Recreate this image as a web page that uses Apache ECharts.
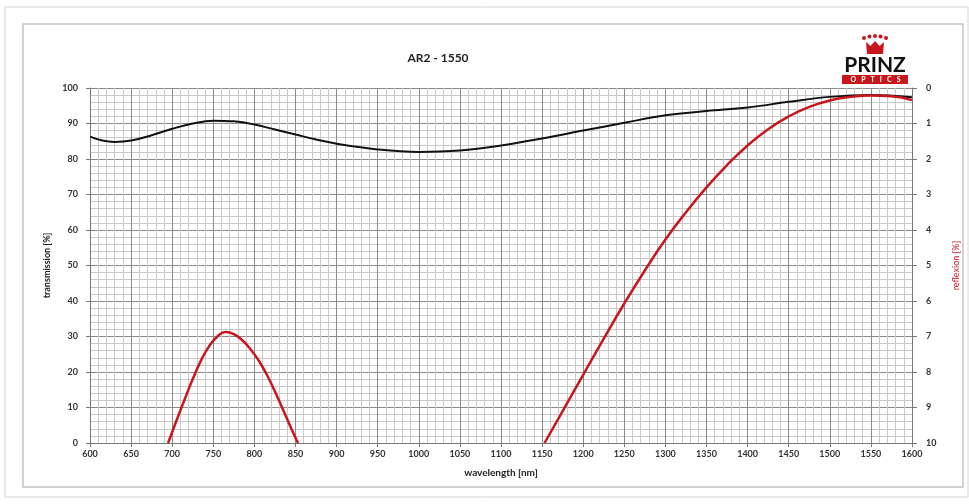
<!DOCTYPE html>
<html>
<head>
<meta charset="utf-8">
<script src="https://cdn.jsdelivr.net/npm/echarts@6/dist/echarts.min.js"></script>
<style>
html,body{margin:0;padding:0;background:#fff;}
#c{width:969px;height:504px;}
</style>
</head>
<body>
<div id="c"></div>
<script>
// ---- data ----
const title = 'AR2 - 1550';
const transWl = [600,615,630,650,675,700,725,750,775,800,825,850,875,900,950,1000,1050,1100,1150,1200,1250,1300,1350,1400,1450,1500,1550,1600];
const transVal = [86.3,85.2,84.8,85.2,86.7,88.5,90.0,90.8,90.6,89.7,88.3,86.9,85.5,84.3,82.7,82.0,82.4,83.8,85.8,88.0,90.2,92.3,93.5,94.5,96.1,97.5,98.0,97.4];
const reflAWl = [695,705,715,725,735,745,755,765,775,785,795,805,815,825,835,845,853];
const reflAVal = [10,9.38,8.78,8.2,7.68,7.27,7.0,6.87,6.93,7.1,7.35,7.67,8.07,8.55,9.07,9.6,10];
const reflBWl = [1153,1175,1200,1225,1250,1275,1300,1325,1350,1375,1400,1425,1450,1475,1500,1525,1550,1575,1600];
const reflBVal = [10,9.1,8.08,7.06,6.07,5.14,4.27,3.5,2.8,2.17,1.62,1.16,0.8,0.53,0.35,0.25,0.21,0.23,0.34];

const zip = (a,b)=>a.map((x,i)=>[x,b[i]]);
const FONT = 'Lato';
const chart = echarts.init(document.getElementById('c'), null, {renderer:'canvas'});
const redCol = '#c8161d';
const plain = v => String(v);
chart.setOption({
  animation:false,
  backgroundColor:'#fff',
  title:{text:title,left:433,top:47,textAlign:'center',textStyle:{fontFamily:FONT,fontSize:12,fontWeight:'bold',color:'#222'}},
  grid:{left:90,right:57,top:88,bottom:61},
  xAxis:{type:'value',min:600,max:1600,interval:50,
    name:'wavelength [nm]',nameLocation:'middle',nameGap:25,
    nameTextStyle:{fontFamily:FONT,fontSize:10,fontWeight:'bold',color:'#222'},
    axisLine:{show:true,lineStyle:{color:'#777',width:1}},
    axisTick:{show:true,length:4,lineStyle:{color:'#777'}},
    axisLabel:{fontFamily:FONT,fontSize:9,color:'#333',fontWeight:'bold',margin:7,formatter:plain},
    splitLine:{show:true,lineStyle:{color:'#8a8a8a',width:1}},
    minorTick:{show:false,splitNumber:5},
    minorSplitLine:{show:true,lineStyle:{color:'#c9c9c9',width:1}}
  },
  yAxis:[{type:'value',min:0,max:100,interval:10,position:'left',
    name:'transmission [%]',nameLocation:'middle',nameGap:36,nameRotate:90,
    nameTextStyle:{fontFamily:FONT,fontSize:9,fontWeight:'bold',color:'#222'},
    axisLine:{show:true,lineStyle:{color:'#777'}},
    axisTick:{show:true,length:4,lineStyle:{color:'#777'}},
    axisLabel:{fontFamily:FONT,fontSize:9,color:'#333',fontWeight:'bold',margin:12,formatter:plain},
    splitLine:{show:true,lineStyle:{color:'#8a8a8a',width:1}},
    minorTick:{show:false,splitNumber:5},
    minorSplitLine:{show:true,lineStyle:{color:'#c9c9c9',width:1}}
  },{type:'value',min:0,max:10,interval:1,position:'right',inverse:true,
    name:'reflexion [%]',nameLocation:'middle',nameGap:40,nameRotate:90,
    nameTextStyle:{fontFamily:FONT,fontSize:9,color:redCol},
    axisLine:{show:true,lineStyle:{color:'#777'}},
    axisTick:{show:true,length:5,lineStyle:{color:'#777'}},
    axisLabel:{fontFamily:FONT,fontSize:9,color:'#333',fontWeight:'bold',margin:14,formatter:plain},
    splitLine:{show:false}
  }],
  series:[
    {type:'line',name:'transmission',yAxisIndex:0,data:zip(transWl,transVal),smooth:0.4,symbol:'none',
      lineStyle:{color:'#111',width:2},z:3},
    {type:'line',name:'reflexion',yAxisIndex:1,data:zip(reflAWl,reflAVal),smooth:0.5,symbol:'none',
      lineStyle:{color:redCol,width:2.5},z:4},
    {type:'line',name:'reflexion2',yAxisIndex:1,data:zip(reflBWl,reflBVal),smooth:0.5,symbol:'none',
      lineStyle:{color:redCol,width:2.5},z:4}
  ],
  graphic:[
    {type:'rect',shape:{x:5,y:7,width:963,height:490},style:{fill:'none',stroke:'#d4d4d4',lineWidth:1},silent:true,z:-10},
    {type:'rect',shape:{x:23,y:24,width:940,height:463},style:{fill:'none',stroke:'#c4c4c4',lineWidth:1.5},silent:true,z:-10},
    // logo crown
    {type:'group',x:861,y:34,children:[
      {type:'circle',shape:{cx:3,cy:4,r:2},style:{fill:redCol}},
      {type:'circle',shape:{cx:8.5,cy:2.5,r:2},style:{fill:redCol}},
      {type:'circle',shape:{cx:14,cy:2,r:2},style:{fill:redCol}},
      {type:'circle',shape:{cx:19.5,cy:2.5,r:2},style:{fill:redCol}},
      {type:'circle',shape:{cx:25,cy:4,r:2},style:{fill:redCol}},
      {type:'polygon',shape:{points:[[5,8],[9.5,12],[14,7],[18.5,12],[23,8],[22,20],[6,20]]},style:{fill:redCol}}
    ]},
    {type:'text',x:875,y:55,style:{text:'PRINZ',align:'center',verticalAlign:'top',font:'bold 21px '+FONT,fill:'#111'}},
    {type:'rect',shape:{x:842,y:75,width:66,height:9},style:{fill:redCol}},
    {type:'text',x:875.5,y:79.5,style:{text:'O   P   T   I   C   S',align:'center',verticalAlign:'middle',font:'bold 7px '+FONT,fill:'#fff'}}
  ]
});
</script>
</body>
</html>
